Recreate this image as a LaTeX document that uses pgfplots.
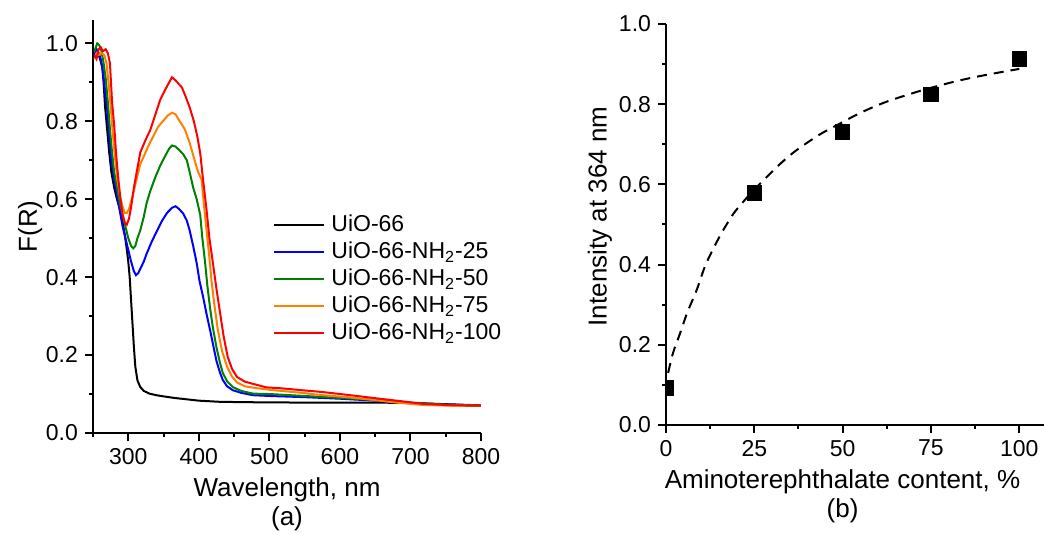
\documentclass[border=0pt]{standalone}
\usepackage{fontspec}
\setmainfont{Liberation Sans}
\usepackage{pgfplots}
\pgfplotsset{compat=1.18}

\definecolor{cblue}{RGB}{0,0,255}
\definecolor{cgreen}{RGB}{0,128,0}
\definecolor{corange}{RGB}{255,128,0}
\definecolor{cred}{RGB}{255,0,0}

\pgfplotsset{
  panel/.style={
    scale only axis,
    axis lines=left,
    axis line style={-, line width=1pt},
    every tick/.style={black, line width=1pt},
    tick align=outside,
    major tick length=4pt,
    minor tick length=2pt,
    /pgf/number format/assume math mode=true,
    tick label style={font=\fontsize{11.5}{13}\selectfont},
    label style={font=\fontsize{13}{14.5}\selectfont},
    yticklabel style={/pgf/number format/.cd, fixed, fixed zerofill, precision=1},
    ytick={0,0.2,...,1.0},
    minor ytick={0.1,0.3,...,0.9},
  },
}

\begin{document}
\begin{tikzpicture}
\path[use as bounding box] (0,0) rectangle (522pt,267pt);

% ---- (a) ----
\begin{axis}[panel,
  at={(46.5pt,50.5pt)}, anchor=south west,
  width=194pt, height=206.5pt,
  xmin=250, xmax=800, ymin=0, ymax=1.06,
  xtick={300,400,...,800},
  minor xtick={250,350,...,750},
  xlabel={Wavelength, nm\\(a)},
  xlabel style={align=center},
  ylabel={F(R)},
  ylabel style={at={(axis description cs:-0.162,0.5)}, anchor=center},
  legend style={at={(rel axis cs:0.464,0.373)}, anchor=west, draw=none, fill=none,
    inner sep=0pt, row sep=0pt,
    font=\fontsize{11.5}{13}\selectfont,
    nodes={inner sep=1pt, text height=9pt, text depth=2.5pt}},
  legend cell align=left,
  legend image code/.code={\draw[#1] (0pt,0pt) -- (25pt,0pt); \path (27pt,0pt);},
  every axis plot/.append style={line width=1pt},
]
\addplot[black] coordinates {(252,0.965)(254,0.98)(257,0.975)(260,0.96)(263,0.94)(265,0.90)(267,0.84)(270,0.78)(273,0.72)(276,0.67)(280,0.63)(284,0.60)(288,0.575)(292,0.54)(295,0.51)(298,0.47)(300,0.44)(302,0.40)(304,0.34)(306,0.28)(308,0.22)(310,0.17)(313,0.135)(317,0.118)(322,0.108)(330,0.101)(340,0.097)(350,0.094)(365,0.090)(380,0.087)(400,0.083)(430,0.080)(470,0.079)(550,0.078)(650,0.078)(700,0.077)(750,0.074)(800,0.071)};
\addlegendentry{UiO-66}
\addplot[cblue] coordinates {(252,0.97)(255,0.985)(258,0.975)(261,0.96)(264,0.93)(267,0.88)(270,0.83)(273,0.76)(276,0.70)(280,0.65)(284,0.61)(288,0.57)(292,0.53)(296,0.50)(300,0.47)(304,0.44)(308,0.415)(311,0.405)(314,0.41)(318,0.425)(322,0.44)(326,0.46)(333,0.49)(341,0.52)(348,0.545)(355,0.565)(362,0.578)(367,0.582)(372,0.575)(378,0.563)(383,0.545)(387,0.52)(392,0.48)(397,0.436)(401,0.39)(406,0.35)(411,0.305)(416,0.264)(421,0.22)(425,0.185)(430,0.155)(434,0.136)(440,0.12)(448,0.11)(460,0.103)(477,0.097)(500,0.095)(550,0.092)(600,0.088)(650,0.083)(700,0.077)(750,0.073)(800,0.070)};
\addlegendentry{UiO-66-NH\textsubscript{2}-25}
\addplot[cgreen] coordinates {(252,0.98)(256,1.0)(259,0.995)(262,0.98)(265,0.95)(268,0.91)(271,0.85)(274,0.78)(277,0.72)(280,0.67)(284,0.63)(288,0.59)(292,0.56)(296,0.53)(300,0.50)(304,0.48)(307,0.474)(310,0.48)(313,0.50)(317,0.52)(322,0.555)(326,0.59)(331,0.62)(338,0.655)(345,0.685)(352,0.71)(358,0.73)(362,0.738)(367,0.735)(373,0.725)(378,0.715)(383,0.70)(387,0.67)(392,0.63)(397,0.60)(402,0.56)(405,0.50)(409,0.436)(412,0.38)(416,0.32)(420,0.27)(425,0.22)(430,0.18)(434,0.154)(440,0.133)(448,0.118)(460,0.108)(477,0.101)(500,0.10)(550,0.095)(600,0.09)(650,0.085)(700,0.078)(750,0.073)(800,0.070)};
\addlegendentry{UiO-66-NH\textsubscript{2}-50}
\addplot[corange] coordinates {(252,0.96)(255,0.975)(258,0.97)(262,0.975)(266,0.97)(269,0.95)(272,0.90)(275,0.84)(278,0.77)(281,0.71)(284,0.66)(288,0.61)(292,0.58)(295,0.565)(298,0.565)(301,0.575)(305,0.60)(309,0.63)(313,0.66)(317,0.69)(322,0.71)(328,0.735)(335,0.76)(342,0.785)(349,0.80)(356,0.815)(362,0.822)(367,0.818)(373,0.80)(380,0.78)(387,0.745)(394,0.70)(399,0.67)(404,0.65)(407,0.59)(411,0.52)(415,0.45)(418,0.39)(422,0.33)(427,0.264)(433,0.21)(440,0.17)(447,0.145)(454,0.13)(465,0.12)(482,0.115)(505,0.11)(540,0.104)(576,0.097)(610,0.092)(647,0.085)(680,0.078)(717,0.072)(760,0.07)(800,0.07)};
\addlegendentry{UiO-66-NH\textsubscript{2}-75}
\addplot[cred] coordinates {(252,0.97)(255,0.96)(258,0.985)(261,0.99)(264,0.98)(268,0.985)(271,0.975)(274,0.95)(277,0.85)(280,0.79)(283,0.71)(286,0.65)(289,0.60)(292,0.56)(295,0.54)(298,0.535)(301,0.55)(304,0.58)(308,0.63)(312,0.67)(317,0.72)(324,0.75)(331,0.777)(338,0.815)(345,0.854)(352,0.88)(358,0.90)(362,0.913)(367,0.905)(372,0.895)(376,0.887)(381,0.865)(387,0.836)(393,0.80)(398,0.76)(402,0.718)(406,0.65)(411,0.572)(415,0.50)(420,0.436)(425,0.37)(430,0.31)(435,0.25)(441,0.195)(447,0.165)(454,0.144)(465,0.132)(477,0.126)(496,0.117)(515,0.115)(545,0.11)(576,0.105)(610,0.098)(647,0.09)(685,0.082)(717,0.075)(760,0.071)(800,0.07)};
\addlegendentry{UiO-66-NH\textsubscript{2}-100}
\end{axis}

% ---- (b) ----
\begin{axis}[panel,
  at={(333pt,54.5pt)}, anchor=south west,
  width=189pt, height=200.5pt,
  xmin=0, xmax=107, ymin=0, ymax=1,
  clip marker paths=true,
  xtick={0,25,...,100},
  minor xtick={12.5,37.5,62.5,87.5},
  xlabel={Aminoterephthalate content, \%\\(b)},
  xlabel style={align=center, at={(ticklabel cs:0.467)}, anchor=north},
  ylabel={Intensity at 364 nm},
  ylabel style={at={(axis description cs:-0.175,0.52)}, anchor=center},
]
\addplot[black, line width=1pt, dash pattern=on 5pt off 3.5pt, smooth] coordinates {(0.6,0.13)(2,0.18)(4,0.229)(6,0.28)(8.7,0.337)(11,0.395)(13.4,0.44)(16,0.483)(19.1,0.527)(22,0.558)(24.7,0.584)(28,0.614)(32.3,0.651)(36,0.679)(39.8,0.703)(44,0.727)(49.3,0.752)(54,0.774)(58.7,0.793)(63,0.808)(68.2,0.823)(73,0.836)(77.6,0.847)(82,0.857)(87.1,0.867)(93,0.877)(100,0.888)};
\addplot[only marks, mark=square*, mark size=3.6pt, black] coordinates {(0,0.093)(25,0.579)(50,0.731)(75,0.825)(100,0.913)};
\end{axis}
\end{tikzpicture}
\end{document}
